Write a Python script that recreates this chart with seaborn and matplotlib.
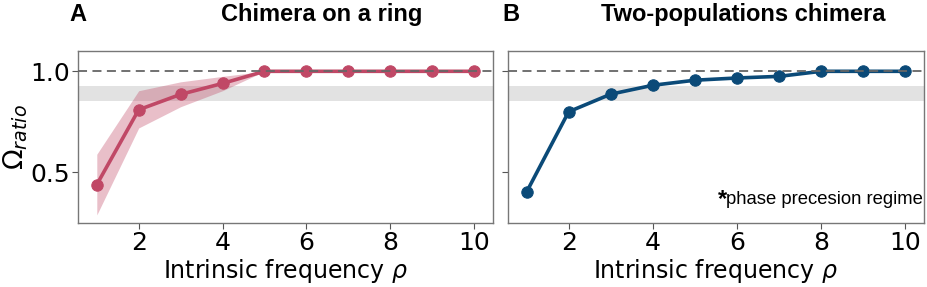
import numpy as np
import pandas as pd
import matplotlib
matplotlib.use("Agg")
import matplotlib.pyplot as plt
import seaborn as sns

rho = [1, 2, 3, 4, 5, 6, 7, 8, 9, 10]
ring_mean = [0.44, 0.81, 0.886, 0.94, 1.0, 1.0, 1.0, 1.0, 1.0, 1.0]
ring_low = [0.29, 0.72, 0.825, 0.904, 1.0, 1.0, 1.0, 1.0, 1.0, 1.0]
ring_high = [0.59, 0.904, 0.948, 0.975, 1.0, 1.0, 1.0, 1.0, 1.0, 1.0]
two_pop = [0.403, 0.80, 0.887, 0.931, 0.956, 0.967, 0.975, 1.0, 1.0, 1.0]
band_low, band_high = 0.855, 0.925

titles = ["Chimera on a ring", "Two-populations chimera"]
letters = ["A", "B"]
red = "#c04866"
blue = "#0b4a78"

sns.set_style("ticks")
plt.rcParams['font.family'] = ['DejaVu Sans']
plt.rcParams['text.color'] = 'black'
plt.rcParams['axes.labelcolor'] = 'black'
plt.rcParams['xtick.labelcolor'] = 'black'
plt.rcParams['ytick.labelcolor'] = 'black'

fig = plt.figure(figsize=(9.28, 2.87), dpi=100)
axA = fig.add_axes([0.084, 0.223, 0.447, 0.599])
axB = fig.add_axes([0.547, 0.223, 0.449, 0.599], sharey=axA)

df = pd.DataFrame({"rho": rho, "ring": ring_mean, "two": two_pop})

for ax, col, color in [(axA, "ring", red), (axB, "two", blue)]:
    ax.axhspan(band_low, band_high, color="#e2e2e2", lw=0, zorder=0)
    sns.lineplot(data=df, x="rho", y=col, ax=ax, color=color, lw=2.6,
                 marker="o", markersize=8.2, markeredgecolor=color, zorder=3)
    ax.axhline(1.0, color="#666666", ls=(0, (5, 3)), lw=1.3, zorder=5)
    ax.set_xlabel(r"Intrinsic frequency $\rho$", fontsize=17, labelpad=1)
    ax.set_xticks([2, 4, 6, 8, 10])
    ax.tick_params(labelsize=18, length=4, color="#555555", width=0.8, pad=2)
    for s in ax.spines.values():
        s.set_color("#777777")
        s.set_linewidth(1.0)

axA.fill_between(rho, ring_low, ring_high, color=red, alpha=0.35, lw=0, zorder=2)
axA.set_ylim(0.25, 1.1)
axA.set_yticks([0.5, 1.0])
axA.set_ylabel(r"$\Omega_{ratio}$", fontsize=19.5, labelpad=0)
axB.set_ylabel("")
axB.tick_params(labelleft=False)
axA.set_xlim(0.55, 10.45)
axB.set_xlim(0.55, 10.45)

note = axB.text(0.996, 0.11, "phase precesion regime", transform=axB.transAxes,
                fontsize=13.3, family="Liberation Sans", ha="right", va="baseline")
axB.annotate("*", xy=(0, 1), xycoords=note, fontsize=17, fontweight="bold",
             family="Liberation Sans", ha="right", va="top", xytext=(1, 2),
             textcoords="offset points")

fig.text(0.347, 0.948, titles[0], fontsize=17, fontweight="bold",
         family="Liberation Sans", ha="center", va="center")
fig.text(0.801, 0.948, titles[1], fontsize=17, fontweight="bold",
         family="Liberation Sans", ha="center", va="center")
fig.text(0.075, 0.948, letters[0], fontsize=17, fontweight="bold",
         family="Liberation Sans", ha="left", va="center")
fig.text(0.541, 0.948, letters[1], fontsize=17, fontweight="bold",
         family="Liberation Sans", ha="left", va="center")

fig.savefig("out.png", dpi=100)
